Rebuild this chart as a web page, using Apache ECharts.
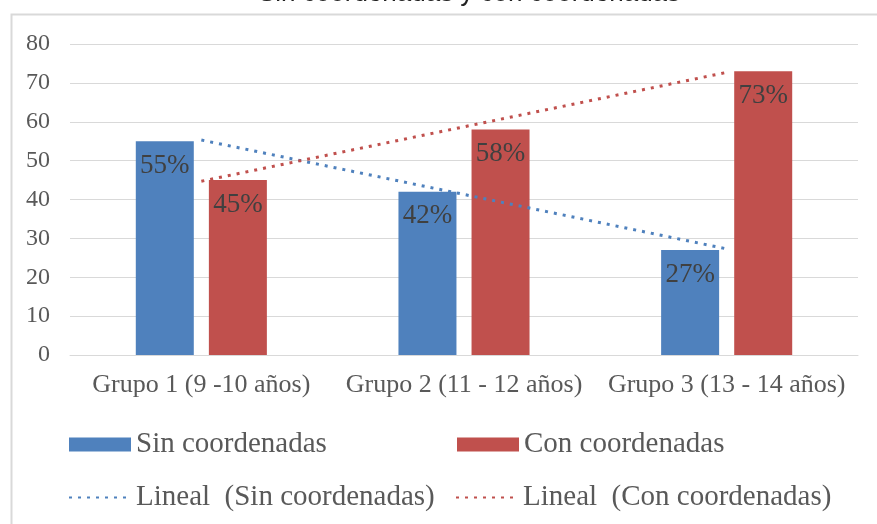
<!DOCTYPE html>
<html>
<head>
<meta charset="utf-8">
<script src="https://cdn.jsdelivr.net/npm/echarts@6/dist/echarts.min.js"></script>
<style>
html,body{margin:0;padding:0;background:#fff;}
#main{width:877px;height:524px;}
</style>
</head>
<body>
<div id="main"></div>
<script>
var titleText = 'Sin coordenadas y con coordenadas';
var categories = ['Grupo 1 (9 -10 años)', 'Grupo 2 (11 - 12 años)', 'Grupo 3 (13 - 14 años)'];
var sinCoord = [55, 42, 27];
var conCoord = [45, 58, 73];
var linealSin = [55.3, 41.3, 27.3];
var linealCon = [44.7, 58.7, 72.7];
var yTicks = {min: 0, max: 80, interval: 10};

var serif = '"Liberation Serif", "Times New Roman", serif';
var blue = '#4F81BD';
var red = '#C0504D';
var txt = '#595959';

var chart = echarts.init(document.getElementById('main'), null, {renderer: 'canvas'});

function leg(name, left, top, isLine) {
  var l = {
    data: [name], left: left, top: top, padding: 0,
    itemWidth: 62, itemHeight: 14,
    selectedMode: false,
    textStyle: {fontFamily: serif, fontSize: 29, color: txt}
  };
  if (isLine) {
    l.itemStyle = {opacity: 0};
  } else {
    l.icon = 'rect';
  }
  return l;
}

chart.setOption({
  backgroundColor: '#fff',
  animation: false,
  title: {
    text: titleText, left: 258, top: -19, padding: 0,
    textStyle: {fontFamily: '"Liberation Sans", Arial, sans-serif', fontSize: 26, fontWeight: 'normal', color: '#222'}
  },
  graphic: [{
    type: 'rect', left: 9, top: 12, silent: true,
    shape: {width: 900, height: 600},
    style: {fill: 'none', stroke: '#d9d9d9', lineWidth: 2}
  }],
  grid: {left: 70, right: 19, top: 44, bottom: 169, containLabel: false},
  legend: [
    leg('Sin coordenadas', 69, 430, false),
    leg('Con coordenadas', 457, 430, false),
    leg('Lineal  (Sin coordenadas)', 68, 483, true),
    leg('Lineal  (Con coordenadas)', 455, 483, true)
  ],
  xAxis: {
    type: 'category', data: categories,
    axisLine: {lineStyle: {color: '#d9d9d9', width: 1}},
    axisTick: {show: false},
    axisLabel: {fontFamily: serif, fontSize: 26, color: txt, margin: 17, interval: 0, hideOverlap: false}
  },
  yAxis: {
    type: 'value', min: yTicks.min, max: yTicks.max, interval: yTicks.interval,
    axisLine: {show: false}, axisTick: {show: false},
    splitLine: {lineStyle: {color: '#d9d9d9', width: 1}},
    axisLabel: {fontFamily: serif, fontSize: 24, color: txt, margin: 20}
  },
  series: [
    {
      name: 'Sin coordenadas', type: 'bar', data: sinCoord,
      barWidth: 58, barGap: '26%',
      itemStyle: {color: blue},
      label: {show: true, position: 'insideTop', distance: 11, formatter: '{c}%',
        fontFamily: serif, fontSize: 27, color: '#404040'}
    },
    {
      name: 'Con coordenadas', type: 'bar', data: conCoord,
      barWidth: 58,
      itemStyle: {color: red},
      label: {show: true, position: 'insideTop', distance: 11, formatter: '{c}%',
        fontFamily: serif, fontSize: 27, color: '#404040'}
    },
    {
      name: 'Lineal  (Sin coordenadas)', type: 'line', data: linealSin,
      symbol: 'none', z: 5,
      lineStyle: {color: blue, width: 3, type: [3, 6]},
      itemStyle: {color: blue}
    },
    {
      name: 'Lineal  (Con coordenadas)', type: 'line', data: linealCon,
      symbol: 'none', z: 5,
      lineStyle: {color: red, width: 3, type: [3, 6]},
      itemStyle: {color: red}
    }
  ]
});
</script>
</body>
</html>
